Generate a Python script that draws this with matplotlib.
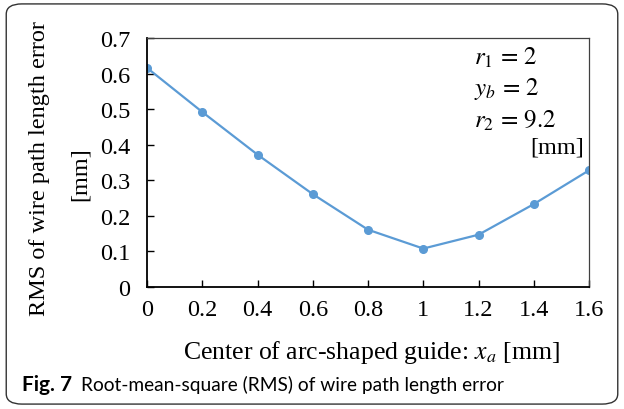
import matplotlib.pyplot as plt
from matplotlib.patches import FancyBboxPatch

# RMS of wire path length error vs. arc-guide centre position
x_center = [0, 0.2, 0.4, 0.6, 0.8, 1.0, 1.2, 1.4, 1.6]
rms_error = [0.616, 0.492, 0.372, 0.261, 0.161, 0.108, 0.147, 0.233, 0.328]
y_ticks = [0, 0.1, 0.2, 0.3, 0.4, 0.5, 0.6, 0.7]
x_ticks = [0, 0.2, 0.4, 0.6, 0.8, 1.0, 1.2, 1.4, 1.6]
x_tick_labels = ['0', '0.2', '0.4', '0.6', '0.8', '1', '1.2', '1.4', '1.6']

plt.rcParams['mathtext.fontset'] = 'stix'
serif = 'Liberation Serif'
fs = 17.5

fig = plt.figure(figsize=(6.24, 4.10), dpi=100)
ax = fig.add_axes([0.2356, 0.2976, 0.944 - 0.2356, 0.9049 - 0.2976])

ax.plot(x_center, rms_error, color='#5b9bd5', linewidth=1.6,
        marker='o', markersize=5.5)

ax.set_xlim(0, 1.6)
ax.set_ylim(0, 0.7)
ax.set_xticks(x_ticks)
ax.set_xticklabels(x_tick_labels)
ax.set_yticks(y_ticks)
ax.set_yticklabels(['0'] + [f'{v:.1f}' for v in y_ticks[1:]])
ax.tick_params(direction='in', length=5, width=1, labelsize=fs)
ax.tick_params(axis='y', pad=12)
ax.tick_params(axis='x', pad=9)
for lbl in ax.get_xticklabels() + ax.get_yticklabels():
    lbl.set_fontfamily(serif)
for side in ['left', 'bottom']:
    ax.spines[side].set_linewidth(1.3)
for side in ['right', 'top']:
    ax.spines[side].set_linewidth(0.9)
    ax.spines[side].set_color('#404040')

# Parameter box in the upper right corner
ax.text(0.74, 0.924, r'$r_1\,=\,2$', transform=ax.transAxes, fontsize=18, va='center')
ax.text(0.74, 0.800, r'$y_b\,=\,2$', transform=ax.transAxes, fontsize=18, va='center')
ax.text(0.74, 0.672, r'$r_2\,=\,9.2$', transform=ax.transAxes, fontsize=18, va='center')
ax.text(0.988, 0.562, '[mm]', transform=ax.transAxes, fontsize=fs,
        ha='right', va='center', family=serif)

fig.text(0.064, 0.588, 'RMS of wire path length error', rotation=90,
         ha='center', va='center', fontsize=fs, family=serif)
fig.text(0.128, 0.575, '[mm]', rotation=90,
         ha='center', va='center', fontsize=fs, family=serif)

fig.text(0.595, 0.141, r'Center of arc-shaped guide: $x_a$ [mm]',
         ha='center', va='center', fontsize=18.5, family=serif)

# Caption line
fig.text(0.036, 0.060, 'Fig. 7', ha='left', va='center', fontsize=15,
         family='Lato', weight='bold')
fig.text(0.130, 0.060, 'Root-mean-square (RMS) of wire path length error',
         ha='left', va='center', fontsize=13.8, family='Lato')

border = FancyBboxPatch((0.01, 0.012), 0.98, 0.976,
                        boxstyle='round,pad=0,rounding_size=0.025',
                        transform=fig.transFigure, fill=False,
                        edgecolor='#333333', linewidth=1.0)
fig.patches.append(border)

fig.savefig('out.png', dpi=100)
